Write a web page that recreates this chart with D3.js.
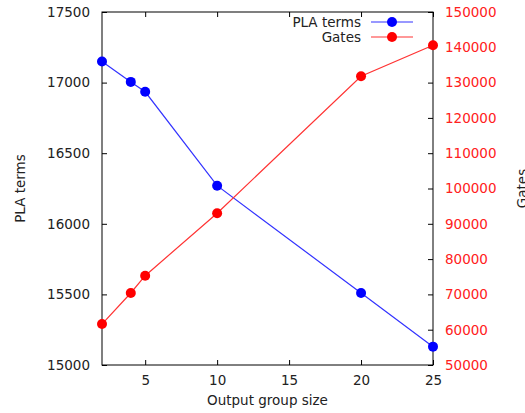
<!DOCTYPE html>
<html>
<head>
<meta charset="utf-8">
<script src="https://cdn.jsdelivr.net/npm/d3@7"></script>
<style>
  body { margin: 0; background: #fff; }
  text { font-family: "DejaVu Sans", sans-serif; }
</style>
</head>
<body>
<svg id="chart" width="525" height="413"></svg>
<script>
const groupSizes = [2, 4, 5, 10, 20, 25];
const plaTerms = [17150, 17005, 16935, 16270, 15510, 15130];
const gates = [61600, 70400, 75300, 93000, 131800, 140600];
const xTicks = [5, 10, 15, 20, 25];
const leftTicks = [15000, 15500, 16000, 16500, 17000, 17500];
const rightTicks = [50000, 60000, 70000, 80000, 90000, 100000, 110000, 120000, 130000, 140000, 150000];

const svg = d3.select("#chart");
const mLeft = 102, mRight = 433, mTop = 12, mBottom = 365;
const fs = 13.5;

const x = d3.scaleLinear().domain([2, 25]).range([mLeft, mRight]);
const yL = d3.scaleLinear().domain([15000, 17500]).range([mBottom, mTop]);
const yR = d3.scaleLinear().domain([50000, 150000]).range([mBottom, mTop]);

function styleAxis(g, color) {
  g.select(".domain").remove();
  g.selectAll("line").attr("stroke", "#000");
  g.selectAll("text").attr("font-family", "DejaVu Sans").attr("font-size", fs).attr("fill", color);
}

// bottom + top ticks (inward)
svg.append("g").attr("transform", `translate(0,${mBottom})`)
  .call(d3.axisBottom(x).tickValues(xTicks).tickSizeInner(-5).tickPadding(10))
  .call(g => styleAxis(g, "#222"));
svg.append("g").attr("transform", `translate(0,${mTop})`)
  .call(d3.axisTop(x).tickValues(xTicks).tickSizeInner(-5).tickFormat(""))
  .call(g => styleAxis(g, "#222"));

// left axis
svg.append("g").attr("transform", `translate(${mLeft},0)`)
  .call(d3.axisLeft(yL).tickValues(leftTicks).tickSizeInner(-5).tickPadding(12).tickFormat(d3.format("d")))
  .call(g => styleAxis(g, "#222"));

// right axis
svg.append("g").attr("transform", `translate(${mRight},0)`)
  .call(d3.axisRight(yR).tickValues(rightTicks).tickSizeInner(-5).tickPadding(12).tickFormat(d3.format("d")))
  .call(g => styleAxis(g, "#ff2020"));

// frame
svg.append("rect")
  .attr("x", mLeft).attr("y", mTop)
  .attr("width", mRight - mLeft).attr("height", mBottom - mTop)
  .attr("fill", "none").attr("stroke", "#000").attr("stroke-width", 1);

const lineL = d3.line().x((d, i) => x(groupSizes[i])).y(d => yL(d));
const lineR = d3.line().x((d, i) => x(groupSizes[i])).y(d => yR(d));

svg.append("path").datum(plaTerms).attr("d", lineL)
  .attr("fill", "none").attr("stroke", "#3333ff").attr("stroke-width", 1.2);
svg.append("path").datum(gates).attr("d", lineR)
  .attr("fill", "none").attr("stroke", "#ff3333").attr("stroke-width", 1.2);

svg.append("g").selectAll("circle").data(plaTerms).join("circle")
  .attr("cx", (d, i) => x(groupSizes[i])).attr("cy", d => yL(d))
  .attr("r", 5).attr("fill", "#0000ff");
svg.append("g").selectAll("circle").data(gates).join("circle")
  .attr("cx", (d, i) => x(groupSizes[i])).attr("cy", d => yR(d))
  .attr("r", 5).attr("fill", "#ff0000");

// axis labels
svg.append("text").attr("x", (mLeft + mRight) / 2).attr("y", 405)
  .attr("text-anchor", "middle").attr("font-size", fs).attr("fill", "#222")
  .text("Output group size");
svg.append("text").attr("transform", `translate(25,${(mTop + mBottom) / 2}) rotate(-90)`)
  .attr("text-anchor", "middle").attr("font-size", fs).attr("fill", "#222")
  .text("PLA terms");
svg.append("text").attr("transform", `translate(527,${(mTop + mBottom) / 2}) rotate(-90)`)
  .attr("text-anchor", "middle").attr("font-size", fs).attr("fill", "#222")
  .text("Gates");

// legend
const legend = [
  { label: "PLA terms", color: "#0000ff", line: "#3333ff" },
  { label: "Gates", color: "#ff0000", line: "#ff3333" }
];
const lg = svg.append("g").selectAll("g").data(legend).join("g")
  .attr("transform", (d, i) => `translate(0,${22 + i * 15})`);
lg.append("text").attr("x", 361).attr("y", 5)
  .attr("text-anchor", "end").attr("font-size", fs).attr("fill", "#222")
  .text(d => d.label);
lg.append("line").attr("x1", 371).attr("x2", 413)
  .attr("stroke", d => d.line).attr("stroke-width", 1.2);
lg.append("circle").attr("cx", 392).attr("r", 5).attr("fill", d => d.color);
</script>
</body>
</html>
